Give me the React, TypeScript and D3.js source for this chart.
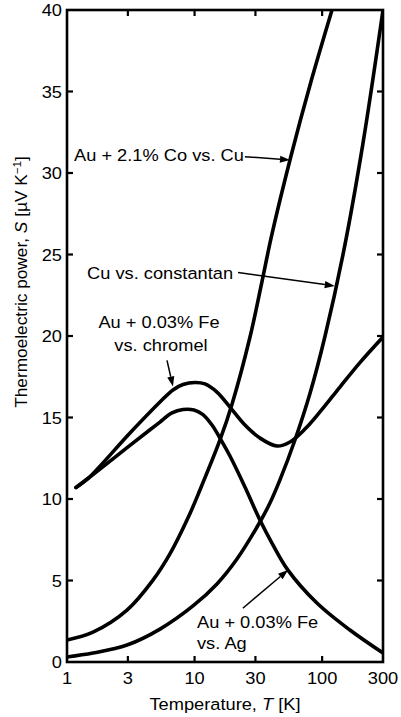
import React from 'react';
import * as d3 from 'd3';

const W = 401;
const H = 717;

const xTicks = [1, 3, 10, 30, 100, 300];
const yTicks = [0, 5, 10, 15, 20, 25, 30, 35, 40];

// Au + 2.1% Co vs. Cu
const auCoT = [1, 1.599, 2.954, 4.72, 6.41, 8.87, 11.02, 15.82, 19.68, 27.2, 33.7, 40.3, 57.0, 81.6, 119.5];
const auCoS = [1.35, 1.83, 3.18, 5.02, 6.63, 8.83, 10.55, 13.62, 15.83, 19.94, 23.31, 26.2, 31.04, 35.58, 40];

// Cu vs. constantan
const cuConT = [1, 1.599, 2.954, 5.356, 9.716, 14.98, 21.49, 32.54, 38.99, 46.7, 61.22, 80.26, 105.2, 148.2, 208.8, 300];
const cuConS = [0.31, 0.55, 1.04, 2.02, 3.44, 4.79, 6.32, 8.59, 9.75, 11.17, 13.62, 16.47, 19.97, 25.28, 31.8, 40];

// Au + 0.03% Fe vs. chromel
const feChrT = [1.176, 1.461, 3.117, 5.356, 6.771, 8.113, 10.07, 12.06, 14.98, 18.94, 24.83, 32.54, 44.24, 55.94, 73.33, 96.1, 137.9, 197.8, 300];
const feChrS = [10.71, 11.26, 14.05, 15.95, 16.69, 17.02, 17.15, 17.06, 16.56, 15.64, 14.54, 13.74, 13.25, 13.5, 14.29, 15.34, 16.87, 18.37, 19.94];

// Au + 0.03% Fe vs. Ag
const feAgT = [1.176, 1.461, 3.117, 4.473, 5.356, 6.651, 8.113, 9.892, 11.64, 13.69, 15.82, 18.94, 24.83, 32.54, 40.42, 53.95, 91.04, 165.2, 300];
const feAgS = [10.71, 11.26, 13.29, 14.25, 14.72, 15.28, 15.49, 15.46, 15.18, 14.54, 13.74, 12.64, 10.74, 8.71, 7.3, 5.64, 3.62, 1.96, 0.55];

const series = [
  { name: 'auCo', T: auCoT, S: auCoS },
  { name: 'cuCon', T: cuConT, S: cuConS },
  { name: 'feChr', T: feChrT, S: feChrS },
  { name: 'feAg', T: feAgT, S: feAgS },
];

// Annotation arrows: [fromT, fromS, tipT, tipS]
const arrowAuCo = [24.8, 31.0, 56, 30.8];
const arrowCuCon = [21.9, 23.9, 125.6, 23.07];
const arrowFeChr = [6.08, 18.5, 6.77, 16.9];
const arrowFeAg = [23.9, 3.3, 54, 5.64];

const FONT = "'Liberation Sans', Arial, Helvetica, sans-serif";
const SX = 1.12;
const FS = 16.3;

function SText({ x, y, anchor = 'start', sx = SX, rotate = 0, children }: any) {
  return (
    <g transform={`translate(${x},${y}) rotate(${rotate}) scale(${sx},1)`}>
      <text textAnchor={anchor} fontSize={FS} fontFamily={FONT} fill="#000">
        {children}
      </text>
    </g>
  );
}

function Arrow({ x1, y1, x2, y2 }: any) {
  const ang = Math.atan2(y2 - y1, x2 - x1);
  const L = 10;
  const hw = 3.6;
  const bx = x2 - L * Math.cos(ang);
  const by = y2 - L * Math.sin(ang);
  const px = -Math.sin(ang) * hw;
  const py = Math.cos(ang) * hw;
  return (
    <g>
      <line x1={x1} y1={y1} x2={bx} y2={by} stroke="#000" strokeWidth={1.5} />
      <path d={`M${x2},${y2}L${bx + px},${by + py}L${bx - px},${by - py}Z`} fill="#000" />
    </g>
  );
}

export default function App() {
  const x = d3.scaleLog().domain([1, 300]).range([67, 383]);
  const y = d3.scaleLinear().domain([0, 40]).range([662, 10]);
  const line = d3
    .line<[number, number]>()
    .x((d) => x(d[0]))
    .y((d) => y(d[1]))
    .curve(d3.curveCatmullRom.alpha(0.5));

  const arrow = (a: number[]) => (
    <Arrow x1={x(a[0])} y1={y(a[1])} x2={x(a[2])} y2={y(a[3])} />
  );

  const x0 = x(1), x1 = x(300), y0 = y(0), y1 = y(40);

  return (
    <svg width={W} height={H} style={{ position: 'absolute', left: 0, top: 0, background: '#fff' }}>
      <defs>
        <clipPath id="plot">
          <rect x={x0} y={y1} width={x1 - x0} height={y0 - y1} />
        </clipPath>
      </defs>
      <rect x={0} y={0} width={W} height={H} fill="#fff" />

      {/* curves */}
      <g clipPath="url(#plot)">
        {series.map((s) => (
          <path
            key={s.name}
            d={line(s.T.map((t, i) => [t, s.S[i]] as [number, number])) || ''}
            fill="none"
            stroke="#000"
            strokeWidth={3.6}
            strokeLinecap="round"
          />
        ))}
      </g>

      {/* frame */}
      <rect x={x0} y={y1} width={x1 - x0} height={y0 - y1} fill="none" stroke="#000" strokeWidth={2.6} />

      {/* y ticks */}
      {yTicks.map((t) => (
        <g key={'y' + t}>
          {t > 0 && t < 40 && (
            <>
              <line x1={x0} x2={x0 + 6} y1={y(t)} y2={y(t)} stroke="#000" strokeWidth={2.2} />
              <line x1={x1} x2={x1 - 6} y1={y(t)} y2={y(t)} stroke="#000" strokeWidth={2.2} />
            </>
          )}
          <SText x={62} y={y(t) + 6} anchor="end">{t}</SText>
        </g>
      ))}

      {/* x ticks */}
      {xTicks.map((t) => (
        <g key={'x' + t}>
          {t > 1 && t < 300 && (
            <>
              <line x1={x(t)} x2={x(t)} y1={y0} y2={y0 - 6} stroke="#000" strokeWidth={2.2} />
              <line x1={x(t)} x2={x(t)} y1={y1} y2={y1 + 6} stroke="#000" strokeWidth={2.2} />
            </>
          )}
          <SText x={x(t)} y={684} anchor="middle">{t}</SText>
        </g>
      ))}

      {/* axis titles */}
      <SText x={225} y={710} anchor="middle">
        Temperature, <tspan fontStyle="italic">T</tspan> [K]
      </SText>
      <SText x={27} y={282} anchor="middle" rotate={-90} sx={1.06}>
        Thermoelectric power, <tspan fontStyle="italic">S</tspan> [µV K
        <tspan fontSize={11} dy={-6}>−1</tspan>
        <tspan dy={6}>]</tspan>
      </SText>

      {/* annotations */}
      <SText x={74} y={161}>Au + 2.1% Co vs. Cu</SText>
      {arrow(arrowAuCo)}
      <SText x={87} y={279}>Cu vs. constantan</SText>
      {arrow(arrowCuCon)}
      <SText x={159} y={328} anchor="middle">Au + 0.03% Fe</SText>
      <SText x={161} y={351} anchor="middle">vs. chromel</SText>
      {arrow(arrowFeChr)}
      <SText x={197} y={628}>Au + 0.03% Fe</SText>
      <SText x={197} y={649}>vs. Ag</SText>
      {arrow(arrowFeAg)}
    </svg>
  );
}
